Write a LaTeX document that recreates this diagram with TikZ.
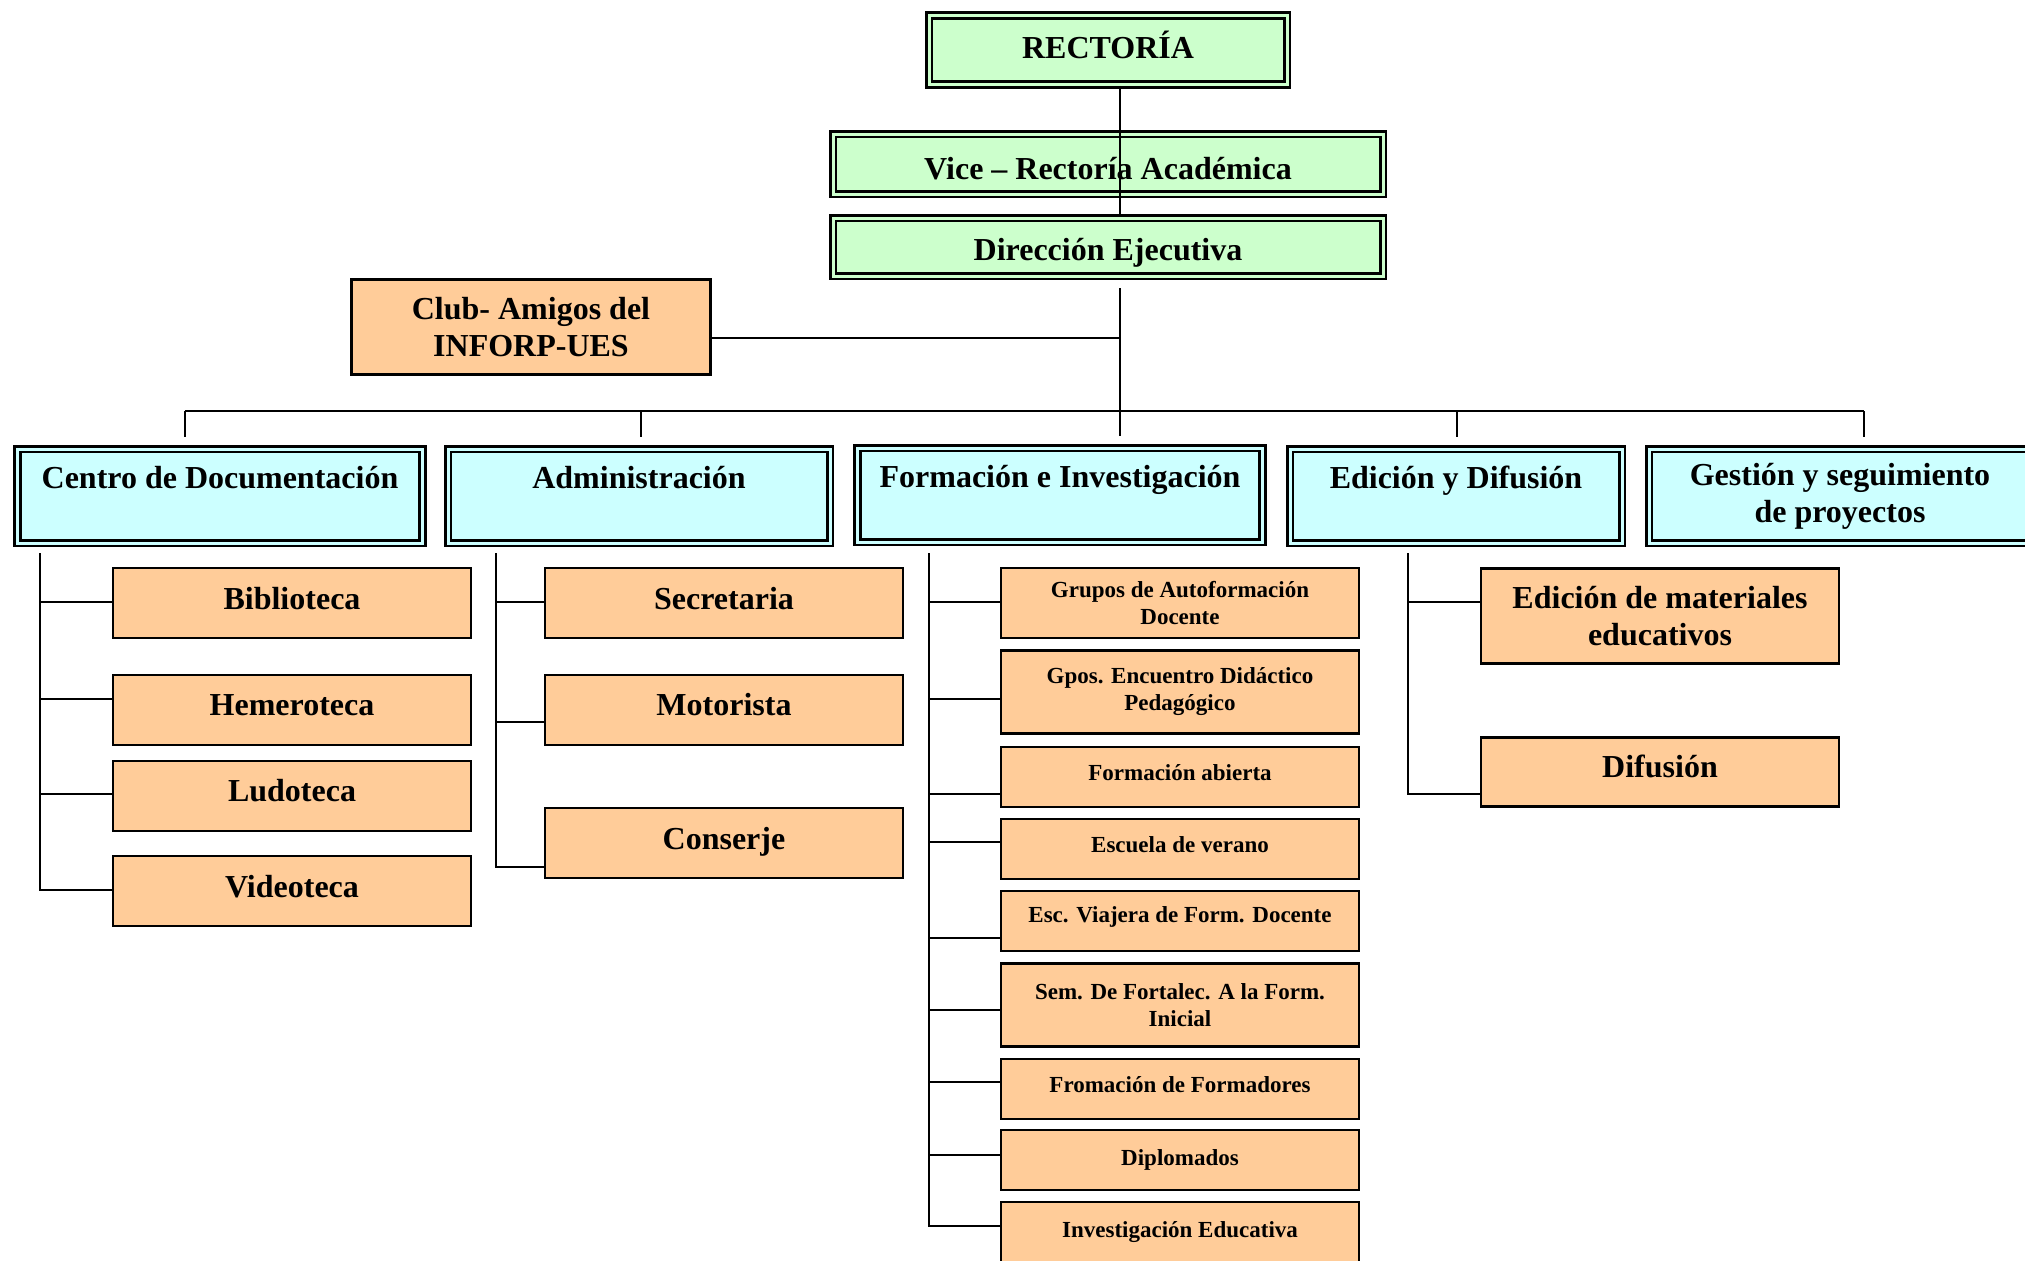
\documentclass[tikz,border=0pt]{standalone}
\usepackage{fontspec}
\setmainfont{Liberation Serif}
\usetikzlibrary{positioning}

\definecolor{headgreen}{RGB}{204,255,204}
\definecolor{unitcyan}{RGB}{204,255,255}
\definecolor{boxorange}{RGB}{255,204,153}

\newcommand{\lift}[2]{\raisebox{#1}[\height][\depth]{#2}}

\begin{document}
\begin{tikzpicture}[
  x=0.5pt, y=-0.5pt,
  head/.style={draw, fill=headgreen, double=headgreen, line width=1.3pt, double distance=1.5pt, inner sep=0pt, align=center, minimum width=275pt, font=\bfseries\fontsize{16}{18.5}\selectfont},
  unit/.style={draw, fill=unitcyan, double=unitcyan, line width=1.3pt, double distance=1.5pt, inner sep=0pt, align=center, minimum height=47pt, font=\bfseries\fontsize{16}{18.5}\selectfont},
  box/.style={draw, fill=boxorange, line width=1.1pt, inner sep=0pt, align=center, minimum width=179pt, minimum height=35pt, font=\bfseries\fontsize{16}{18.5}\selectfont},
  small/.style={font=\bfseries\fontsize{11.5}{13.5}\selectfont, minimum height=30pt},
  link/.style={line width=0.9pt}
]
\useasboundingbox (0,0) rectangle (2025,1260);

% top of the chart
\node[head, minimum width=179pt, minimum height=34.5pt] (rect) at (1108,50) {\lift{2.5pt}{RECTORÍA}};
\node[head, minimum height=30pt] (vice) at (1108,164) {\lift{-2.5pt}{Vice -- Rectoría Académica}};
\node[head, minimum height=29pt] (dir) at (1108,247) {\lift{-3pt}{Dirección Ejecutiva}};
\node[box, minimum width=179.5pt, minimum height=47.5pt] (club) at (531,327) {Club- Amigos del\\INFORP-UES};

% second level
\node[unit, minimum width=202.5pt] (cd) at (220,496) {Centro de Documentación\\~};
\node[unit, minimum width=191pt] (adm) at (639,496) {Administración\\~};
\node[unit, minimum width=202.5pt] (form) at (1060,495) {Formación e Investigación\\~};
\node[unit, minimum width=166pt] (ed) at (1456,496) {Edición y Difusión\\~};
\node[unit, minimum width=191pt] (ges) at (1840,496) {Gestión y seguimiento\\de proyectos};

% Centro de Documentación
\node[box] (bib) at (292,603) {\lift{2pt}{Biblioteca}};
\node[box] (hem) at (292,710) {\lift{2.5pt}{Hemeroteca}};
\node[box] (lud) at (292,796) {\lift{2.5pt}{Ludoteca}};
\node[box] (vid) at (292,891) {\lift{2pt}{Videoteca}};

% Administración
\node[box] (sec) at (724,603) {\lift{2pt}{Secretaria}};
\node[box] (mot) at (724,710) {\lift{2.5pt}{Motorista}};
\node[box] (con) at (724,843) {\lift{0.5pt}{Conserje}};

% Formación e Investigación
\node[box, small, minimum height=35pt] (gru) at (1180,603) {Grupos de Autoformación\\Docente};
\node[box, small, minimum height=41.5pt] (gpo) at (1180,692) {Gpos. Encuentro Didáctico\\Pedagógico};
\node[box, small] (fab) at (1180,777) {\lift{2pt}{Formación abierta}};
\node[box, small] (esv) at (1180,849) {\lift{2pt}{Escuela de verano}};
\node[box, small] (evj) at (1180,921) {\lift{2pt}{Esc. Viajera de Form. Docente}};
\node[box, small, minimum height=41.5pt] (sem) at (1180,1005) {Sem. De Fortalec. A la Form.\\Inicial};
\node[box, small] (ffo) at (1180,1089) {\lift{2pt}{Fromación de Formadores}};
\node[box, small] (dip) at (1180,1160) {Diplomados};
\node[box, small] (inv) at (1180,1232) {Investigación Educativa};

% Edición y Difusión
\node[box, minimum height=47.5pt] (edm) at (1660,616) {Edición de materiales\\educativos};
\node[box, minimum height=34.5pt] (dif) at (1660,772) {\lift{3pt}{Difusión}};

% connectors
\coordinate (bus) at (1120,411);
\draw[link] ([xshift=6pt]rect.south) -- ([xshift=6pt]dir.north);
\draw[link] ([xshift=6pt,yshift=-5.5pt]dir.south) -- (bus);
\draw[link] ([yshift=-5.5pt]club.east) -- ([yshift=-5.5pt]club.east -| bus);
\draw[link] ([xshift=-17.5pt]cd.north |- bus) -- ([xshift=12pt]ges.north |- bus);
\foreach \n/\dx in {cd/-17.5pt, adm/1pt, form/30pt, ed/0.5pt, ges/12pt}
  \draw[link] ([xshift=\dx,yshift=5.5pt]\n.north) -- ([xshift=\dx]\n.north |- bus);

\coordinate (cdbr) at (40,553);
\coordinate (admbr) at (496,553);
\coordinate (formbr) at (929,553);
\coordinate (edbr) at (1408,553);

\foreach \c/\dy in {bib/0.5pt, hem/5.5pt, lud/1pt, vid/0.5pt}
  \draw[link] (cdbr) |- ([yshift=\dy]\c.west);
\foreach \c/\dy in {sec/0.5pt, mot/-6pt, con/-12pt}
  \draw[link] (admbr) |- ([yshift=\dy]\c.west);
\foreach \c/\dy in {gru/0.5pt, gpo/-3.5pt, fab/-8.5pt, esv/3.5pt, evj/-8.5pt, sem/-2.5pt, ffo/3.5pt, dip/2.5pt, inv/3pt}
  \draw[link] (formbr) |- ([yshift=\dy]\c.west);
\foreach \c/\dy in {edm/7pt, dif/-11pt}
  \draw[link] (edbr) |- ([yshift=\dy]\c.west);

\end{tikzpicture}
\end{document}
